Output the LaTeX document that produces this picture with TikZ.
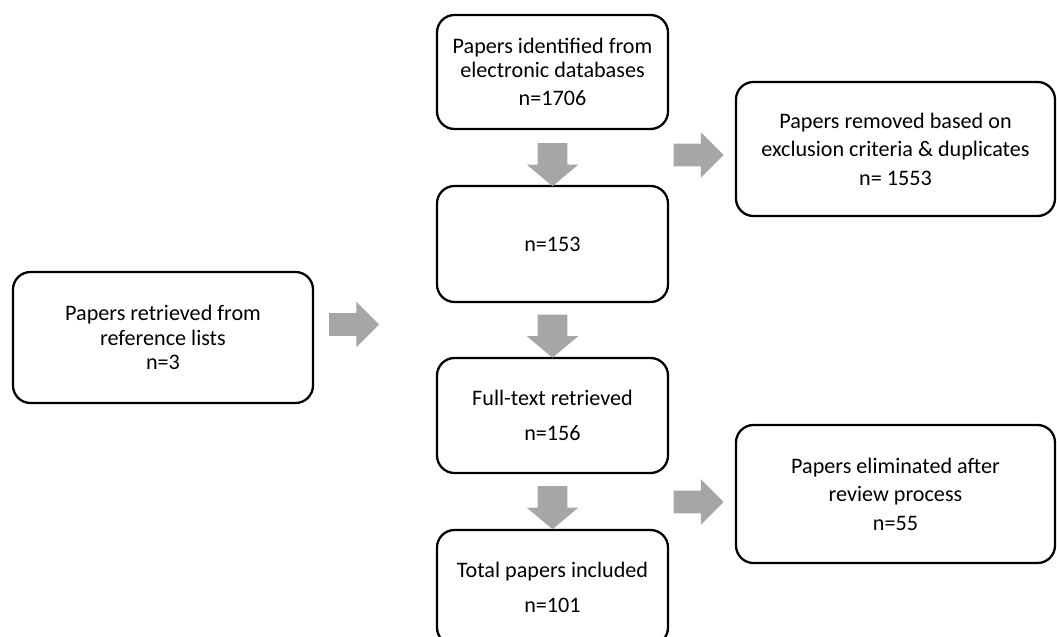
\documentclass[tikz,border=0pt]{standalone}
\usepackage{fontspec}
\setmainfont{Carlito}
\usetikzlibrary{shapes.arrows}
\definecolor{grisfleche}{RGB}{166,166,166}
\begin{document}
\begin{tikzpicture}
	\tikzset{boite/.style={draw=black, line width=1.3pt, rounded corners=0.35cm, align=center, inner sep=0.1cm, font=\fontsize{12.6}{14}\selectfont},
		fleche/.style={single arrow, fill=grisfleche, draw=none, inner xsep=0pt, inner ysep=0.22cm, single arrow head extend=0.23cm, minimum height=1cm, minimum width=0.9cm},
		flechebas/.style={fleche, rotate=-90, inner ysep=0.29cm, single arrow head extend=0.22cm, single arrow tip angle=100, minimum height=0.86cm, minimum width=1.02cm}};

	\useasboundingbox (0,0) rectangle (21.14,-12.74);

	\node[boite, minimum width=4.62cm, minimum height=2.28cm] (ident)  at (11.05, -1.44) {Papers identified from\\electronic databases\\[2pt]n=1706};
	\node[boite, minimum width=4.62cm, minimum height=2.32cm] (tri)    at (11.05, -4.88) {n=153};
	\node[boite, minimum width=4.62cm, minimum height=2.30cm] (texte)  at (11.05, -8.31) {Full-text retrieved\\[5.8pt]n=156};
	\node[boite, minimum width=4.62cm, minimum height=2.30cm] (inclus) at (11.05,-11.75) {Total papers included\\[5.8pt]n=101};

	\node[boite, minimum width=6.00cm, minimum height=2.62cm] (refs)   at ( 3.26, -6.75) {Papers retrieved from\\reference lists\\n=3};
	\node[boite, minimum width=6.38cm, minimum height=2.68cm] (exclus) at (17.91, -2.98) {Papers removed based on\\[2.2pt]exclusion criteria \& duplicates\\[2.2pt]n= 1553};
	\node[boite, minimum width=6.38cm, minimum height=2.76cm] (elimin) at (17.91, -9.88) {Papers eliminated after\\[2.2pt]review process\\[2.2pt]n=55};

	\node[flechebas] (f1) at (11.05, -3.17) {};
	\node[flechebas] (f2) at (11.05, -6.60) {};
	\node[flechebas] (f3) at (11.05,-10.03) {};
	\node[fleche] (f4) at (13.86, -3.10) {};
	\node[fleche] (f5) at (13.86,-10.04) {};
	\node[fleche] (f6) at ( 6.97, -6.49) {};
\end{tikzpicture}
\end{document}
